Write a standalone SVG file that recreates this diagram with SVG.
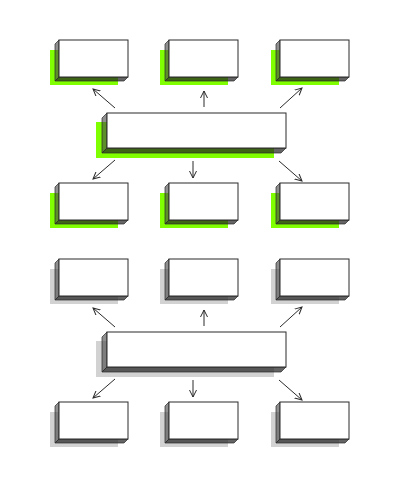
<svg xmlns="http://www.w3.org/2000/svg" xmlns:xlink="http://www.w3.org/1999/xlink" width="400" height="500" viewBox="0 0 400 500">
<style>
.front{fill:#fff;stroke:#2a2a2a;stroke-width:1}
.left{fill:#444;fill-opacity:0.6;stroke:#2a2a2a;stroke-width:0.7}
.bot{fill:#222;fill-opacity:0.7;stroke:#2a2a2a;stroke-width:0.7}
.sg{fill:#80ff00}
.sy{fill:#d2d2d2}
.arr{stroke:#2a2a2a;stroke-width:1;fill:none;marker-end:url(#ah)}
</style>
<defs>
<marker id="ah" viewBox="0 0 8 8" refX="7" refY="4" markerWidth="8" markerHeight="8" markerUnits="userSpaceOnUse" orient="auto">
<path d="M0,0.5 L7,4 L0,7.5" fill="none" stroke="#2a2a2a" stroke-width="1"/>
</marker>
<g id="sboxG"><rect class="sg" x="-9" y="10" width="68" height="35"/><polygon class="left" points="0,0 -4,4 -4,41 0,37"/><polygon class="bot" points="0,37 -4,41 65,41 69,37"/><rect class="front" x="0" y="0" width="69" height="37"/></g>
<g id="sboxY"><rect class="sy" x="-9" y="10" width="68" height="35"/><polygon class="left" points="0,0 -4,4 -4,41 0,37"/><polygon class="bot" points="0,37 -4,41 65,41 69,37"/><rect class="front" x="0" y="0" width="69" height="37"/></g>
<g id="bboxG"><rect class="sg" x="-11" y="9" width="178" height="36"/><polygon class="left" points="0,0 -5,5 -5,40 0,35"/><polygon class="bot" points="0,35 -5,40 174,40 179,35"/><rect class="front" x="0" y="0" width="179" height="35"/></g>
<g id="bboxY"><rect class="sy" x="-11" y="9" width="178" height="36"/><polygon class="left" points="0,0 -5,5 -5,40 0,35"/><polygon class="bot" points="0,35 -5,40 174,40 179,35"/><rect class="front" x="0" y="0" width="179" height="35"/></g>
</defs>
<rect width="400" height="500" fill="#fff"/>
<g id="top-t1" transform="translate(59,40)"><use xlink:href="#sboxG"/></g>
<g id="top-t2" transform="translate(169,40)"><use xlink:href="#sboxG"/></g>
<g id="top-t3" transform="translate(280,40)"><use xlink:href="#sboxG"/></g>
<g id="top-main" transform="translate(107,113)"><use xlink:href="#bboxG"/></g>
<g id="top-b1" transform="translate(59,183)"><use xlink:href="#sboxG"/></g>
<g id="top-b2" transform="translate(169,183)"><use xlink:href="#sboxG"/></g>
<g id="top-b3" transform="translate(280,183)"><use xlink:href="#sboxG"/></g>
<g id="bot-t1" transform="translate(59,259)"><use xlink:href="#sboxY"/></g>
<g id="bot-t2" transform="translate(169,259)"><use xlink:href="#sboxY"/></g>
<g id="bot-t3" transform="translate(280,259)"><use xlink:href="#sboxY"/></g>
<g id="bot-main" transform="translate(107,332)"><use xlink:href="#bboxY"/></g>
<g id="bot-b1" transform="translate(59,402)"><use xlink:href="#sboxY"/></g>
<g id="bot-b2" transform="translate(169,402)"><use xlink:href="#sboxY"/></g>
<g id="bot-b3" transform="translate(280,402)"><use xlink:href="#sboxY"/></g>
<g id="connectors">
<line class="arr" x1="115" y1="108" x2="93" y2="89"/>
<line class="arr" x1="204" y1="107" x2="204" y2="91"/>
<line class="arr" x1="280" y1="108" x2="302" y2="88"/>
<line class="arr" x1="115" y1="160" x2="93" y2="179"/>
<line class="arr" x1="193" y1="161" x2="193" y2="178"/>
<line class="arr" x1="279" y1="161" x2="302" y2="181"/>
<line class="arr" x1="115" y1="327" x2="93" y2="308"/>
<line class="arr" x1="204" y1="326" x2="204" y2="310"/>
<line class="arr" x1="280" y1="327" x2="302" y2="307"/>
<line class="arr" x1="115" y1="379" x2="93" y2="398"/>
<line class="arr" x1="193" y1="380" x2="193" y2="397"/>
<line class="arr" x1="279" y1="380" x2="302" y2="400"/>
</g>
</svg>
